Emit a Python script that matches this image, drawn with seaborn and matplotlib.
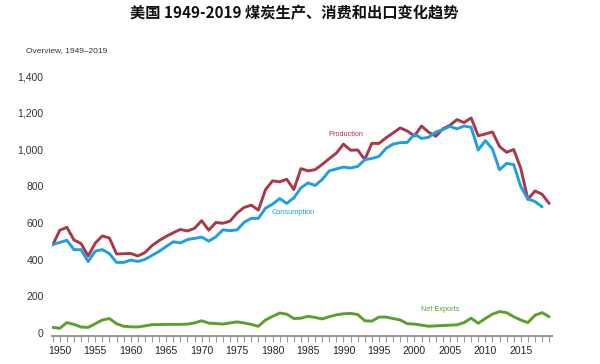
import matplotlib
matplotlib.use("Agg")
import matplotlib.pyplot as plt
from matplotlib import font_manager
from matplotlib.ticker import MultipleLocator, FixedLocator, FuncFormatter
import seaborn as sns
import pandas as pd
import numpy as np

years = list(range(1949, 2020))
production = [480.6, 560.4, 576.3, 507.4, 488.2, 420.4, 490.8, 529.8, 518.0, 431.6,
              432.7, 434.3, 420.4, 439.0, 477.2, 504.2, 527.0, 546.8, 564.9, 556.7,
              571.0, 612.7, 560.9, 602.5, 598.6, 610.0, 654.6, 684.9, 697.2, 670.2,
              781.1, 829.7, 823.8, 838.1, 782.1, 895.9, 883.6, 890.3, 918.8, 950.3,
              980.7, 1029.1, 996.0, 997.5, 945.4, 1033.5, 1033.0, 1063.9, 1089.9, 1117.5,
              1100.4, 1073.6, 1127.7, 1094.3, 1071.8, 1112.1, 1131.5, 1162.7, 1146.6, 1171.8,
              1074.9, 1084.4, 1095.6, 1016.5, 984.8, 1000.0, 896.9, 728.4, 774.6, 756.2,
              706.3]
consumption = [483.2, 494.1, 505.9, 454.7, 454.8, 390.0, 447.0, 455.2, 432.9, 385.7,
               385.3, 398.1, 390.4, 402.0, 423.5, 445.7, 472.0, 497.7, 491.4, 509.8,
               516.4, 523.2, 501.6, 524.3, 562.6, 558.4, 562.6, 603.8, 625.3, 625.2,
               680.5, 702.7, 732.6, 706.9, 736.7, 791.3, 818.0, 804.2, 836.9, 883.6,
               894.1, 904.5, 899.2, 907.7, 944.1, 951.3, 962.1, 1006.3, 1029.5, 1037.1,
               1038.6, 1084.1, 1060.1, 1066.4, 1094.9, 1107.3, 1125.9, 1112.3, 1128.0, 1120.5,
               997.5, 1048.5, 1002.9, 889.2, 924.4, 917.7, 798.1, 731.1, 716.9, 688.1]
net_exports = [32, 27, 58, 48, 34, 32, 52, 72, 80, 52,
               38, 35, 34, 40, 47, 47, 48, 48, 48, 50,
               56, 68, 55, 53, 50, 56, 62, 56, 48, 38,
               72, 92, 110, 104, 80, 82, 92, 86, 78, 90,
               100, 106, 108, 102, 68, 66, 88, 88, 80, 72,
               52, 50, 44, 38, 40, 42, 44, 46, 58, 82,
               54, 80, 104, 118, 112, 90, 72, 58, 98, 112,
               90]
y_ticks = [0, 200, 400, 600, 800, 1000, 1200, 1400]
x_labels = [1950, 1955, 1960, 1965, 1970, 1975, 1980, 1985, 1990, 1995, 2000, 2005, 2010, 2015]

title = "美国 1949-2019 煤炭生产、消费和出口变化趋势"
subtitle = "Overview, 1949–2019"

sns.set_theme(style="white")
names = {f.name for f in font_manager.fontManager.ttflist}
narrow = "Liberation Sans Narrow" if "Liberation Sans Narrow" in names else "Liberation Sans"
plt.rcParams['font.family'] = [narrow, 'DejaVu Sans']

df_p = pd.DataFrame({"year": years, "value": production})
df_c = pd.DataFrame({"year": years[:len(consumption)], "value": consumption})
df_n = pd.DataFrame({"year": years, "value": net_exports})

c_prod = "#A8384A"
c_cons = "#1E9FDF"
c_net = "#5E9E2E"

fig = plt.figure(figsize=(6.0, 3.64), dpi=100)
ax = fig.add_axes([52/600, (364-336)/364, 500/600, (336-76)/364])

sns.lineplot(data=df_p, x="year", y="value", ax=ax, color=c_prod, linewidth=2.1)
sns.lineplot(data=df_c, x="year", y="value", ax=ax, color=c_cons, linewidth=2.1)
sns.lineplot(data=df_n, x="year", y="value", ax=ax, color=c_net, linewidth=2.1)

ax.set_xlim(1948.9, 2019.4)
ax.set_ylim(-15, 1400)
ax.set_xlabel("")
ax.set_ylabel("")
for s in ["top", "right", "left"]:
    ax.spines[s].set_visible(False)
ax.spines["bottom"].set_color("#9a9a9a")
ax.spines["bottom"].set_linewidth(1.5)

ax.yaxis.set_major_locator(FixedLocator(y_ticks))
ax.yaxis.set_major_formatter(FuncFormatter(lambda v, p: f"{int(v):,}"))
ax.tick_params(axis="y", length=0, pad=6, labelsize=7.5, labelcolor="#333333")

ax.xaxis.set_major_locator(FixedLocator(x_labels))
ax.xaxis.set_minor_locator(MultipleLocator(1))
ax.tick_params(axis="x", which="both", direction="out", length=4, width=0.8,
               color="#9a9a9a", labelsize=7.5, labelcolor="#222222", pad=3, bottom=True)
ax.grid(False)

ax.text(1990.4, 1080, "Production", color=c_prod, fontsize=5.3, ha="center", va="center")
ax.text(1982.9, 655, "Consumption", color=c_cons, fontsize=5.3, ha="center", va="center")
ax.text(2003.7, 130, "Net Exports", color=c_net, fontsize=5.3, ha="center", va="center")

fig.text(0.49, 1 - 13/364, title, ha="center", va="center", fontsize=11,
         fontweight="bold", family=["Noto Sans CJK SC", "DejaVu Sans"], color="#111111")
fig.text(26/600, 1 - 51/364, subtitle, ha="left", va="center", fontsize=6, color="#333333")

fig.savefig("out.png", dpi=100, facecolor="white")
